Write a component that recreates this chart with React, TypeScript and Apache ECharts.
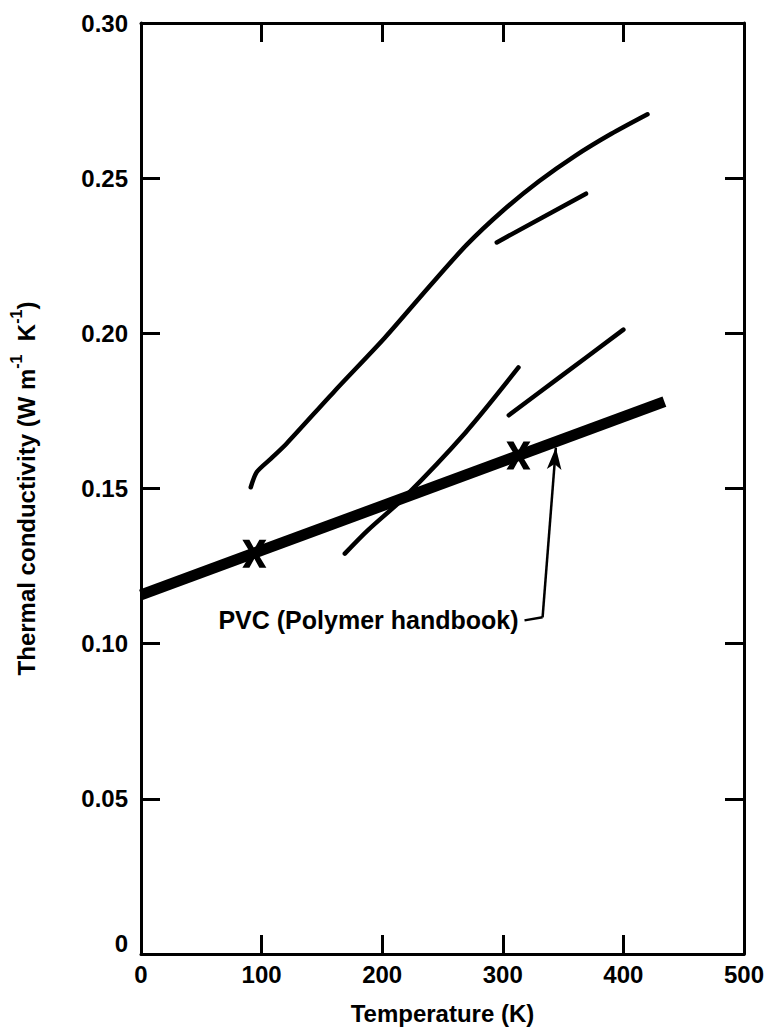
import React, { useEffect, useRef } from 'react';
import * as echarts from 'echarts';

// ---- data ----
const xTickValues = [0, 100, 200, 300, 400, 500];
const yTickLabels = ['0', '0.05', '0.10', '0.15', '0.20', '0.25', '0.30'];

// PVC (Polymer handbook) reference line
const pvcLine: number[][] = [[0, 0.1157], [434, 0.178]];
const pvcMarks: number[][] = [[94, 0.129], [313, 0.1606]];

// measured curves
const upperCurve: number[][] = [
  [91, 0.1504], [96, 0.1553], [108, 0.1597], [121, 0.1646], [161, 0.1816],
  [202, 0.1985], [240, 0.2155], [270, 0.2285], [300, 0.2395], [330, 0.249],
  [360, 0.2572], [390, 0.2643], [420, 0.2706],
];
const shortSegment: number[][] = [[295, 0.2293], [369, 0.245]];
const crossingCurve: number[][] = [
  [169, 0.129], [188, 0.1365], [218, 0.147], [269, 0.168], [313, 0.189],
];
const rightSegment: number[][] = [[305, 0.1736], [347, 0.1858], [400, 0.2012]];

// annotation
const annotationText = 'PVC (Polymer handbook)';
const annotationHook: number[][] = [[318, 0.1075], [333, 0.1085]];
const arrowTip: number[] = [344, 0.1632];

const FONT = '"Liberation Sans", Arial, sans-serif';

export default function App() {
  const ref = useRef<HTMLDivElement>(null);
  useEffect(() => {
    if (!ref.current) return;
    const chart = echarts.init(ref.current, undefined, { renderer: 'svg' });
    const thin = { color: '#000', width: 4.5, cap: 'round' as const, join: 'round' as const };
    const axisCommon = {
      type: 'value' as const,
      axisLine: { show: true, onZero: false, lineStyle: { color: '#000', width: 3 } },
      axisTick: { show: true, inside: true, length: 19, lineStyle: { color: '#000', width: 3 } },
      splitLine: { show: false },
    };
    chart.setOption({
      animation: false,
      backgroundColor: '#fff',
      grid: { left: 133, right: 17, top: 23, bottom: 81, containLabel: false },
      xAxis: [
        {
          ...axisCommon,
          position: 'bottom',
          min: 0, max: 500, interval: 100,
          axisLabel: {
            color: '#000', fontFamily: FONT, fontWeight: 'bold', fontSize: 24, margin: 8,
            formatter: (v: number) => (xTickValues.includes(v) ? String(v) : ''),
          },
          name: 'Temperature (K)',
          nameLocation: 'middle',
          nameGap: 47,
          nameTextStyle: { color: '#000', fontFamily: FONT, fontWeight: 'bold', fontSize: 24 },
        },
        {
          ...axisCommon,
          position: 'top',
          min: 0, max: 500, interval: 100,
          axisLabel: { show: false },
        },
      ],
      yAxis: [
        {
          ...axisCommon,
          position: 'left',
          min: 0, max: 0.3, interval: 0.05,
          axisLabel: {
            color: '#000', fontFamily: FONT, fontWeight: 'bold', fontSize: 24, margin: 13,
            formatter: (v: number) => {
              const i = Math.round(v / 0.05);
              const t = yTickLabels[i] ?? '';
              return i === 0 ? '{z|' + t + '}' : t;
            },
            rich: { z: { fontFamily: FONT, fontWeight: 'bold', fontSize: 24, color: '#000', padding: [0, 0, 22, 0] } },
          },
          name: '{a|Thermal conductivity (W m}{s|-1}{a|  K}{s|-1}{a|)}',
          nameLocation: 'middle',
          nameRotate: 90,
          nameGap: 103,
          nameTextStyle: {
            rich: {
              a: { fontFamily: FONT, fontWeight: 'bold', fontSize: 24, color: '#000', lineHeight: 30, verticalAlign: 'bottom' },
              s: { fontFamily: FONT, fontWeight: 'bold', fontSize: 16, color: '#000', lineHeight: 30, verticalAlign: 'top' },
            },
          },
        },
        {
          ...axisCommon,
          position: 'right',
          min: 0, max: 0.3, interval: 0.05,
          axisLabel: { show: false },
        },
      ],
      series: [
        {
          type: 'line', data: pvcLine, showSymbol: false, symbol: 'none',
          lineStyle: { color: '#000', width: 11, cap: 'butt' }, z: 3,
        },
        {
          type: 'line', data: upperCurve, smooth: 0.25, symbol: 'none', lineStyle: thin,
        },
        { type: 'line', data: shortSegment, symbol: 'none', lineStyle: thin },
        { type: 'line', data: crossingCurve, smooth: 0.3, symbol: 'none', lineStyle: thin },
        { type: 'line', data: rightSegment, smooth: 0.3, symbol: 'none', lineStyle: thin },
        {
          type: 'scatter', data: pvcMarks, z: 5,
          symbol: 'path://M0,0 L7,0 L12,9 L17,0 L24,0 L15.5,14 L24,28 L17,28 L12,19 L7,28 L0,28 L8.5,14 Z',
          symbolSize: [24, 28],
          itemStyle: { color: '#000', opacity: 1 },
        },
        {
          type: 'line', data: annotationHook, symbol: 'none',
          lineStyle: { color: '#000', width: 2.5 },
          markLine: {
            silent: true,
            symbol: ['none', 'arrow'],
            symbolSize: [11, 22],
            label: { show: false },
            lineStyle: { color: '#000', width: 2.5, type: 'solid' },
            data: [[{ coord: annotationHook[annotationHook.length - 1] }, { coord: arrowTip }]],
          },
        },
        {
          type: 'scatter', data: [annotationHook[0]], symbolSize: 0,
          itemStyle: { opacity: 1 },
          label: {
            show: true, position: 'left', distance: 6, formatter: annotationText,
            color: '#000', opacity: 1, fontFamily: FONT, fontWeight: 'bold', fontSize: 25,
          },
        },
      ],
    });
    return () => chart.dispose();
  }, []);
  return <div ref={ref} style={{ position: 'fixed', left: 0, top: 0, width: 767, height: 1035, background: '#fff' }} />;
}
